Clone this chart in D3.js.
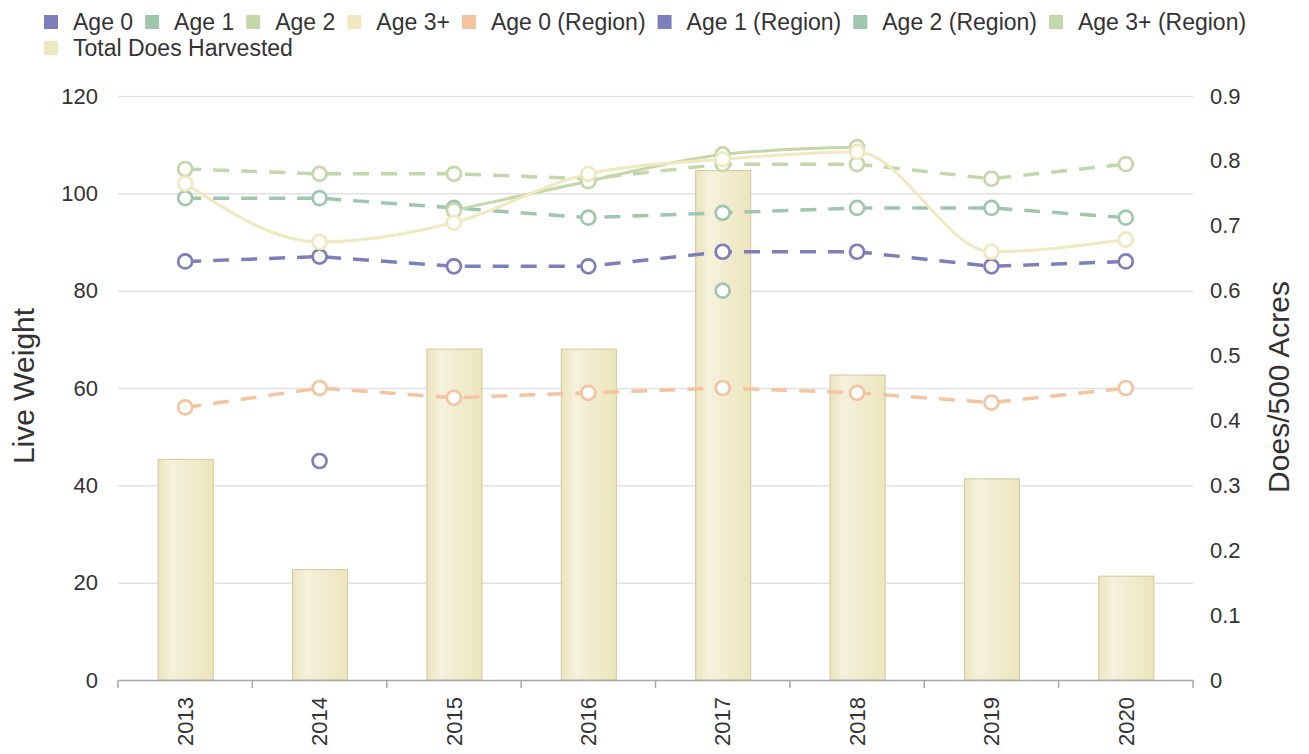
<!DOCTYPE html>
<html>
<head>
<meta charset="utf-8">
<script src="https://cdn.jsdelivr.net/npm/d3@7"></script>
<style>
  html, body { margin: 0; padding: 0; background: #fff; }
  svg { display: block; font-family: "Liberation Sans", Arial, sans-serif; }
</style>
</head>
<body>
<svg id="chart" width="1309" height="754"></svg>
<script>
// ---- data ----
const years = ["2013", "2014", "2015", "2016", "2017", "2018", "2019", "2020"];
const age0 = [null, 45, null, null, null, null, null, null];
const age1 = [null, null, null, null, 80, null, null, null];
const age2 = [null, null, 96.5, 102.5, 108, 109.5, null, null];
const age3 = [102, 90, 94, 104, 107, 108.5, 88, 90.5];
const age0Region = [56, 60, 58, 59, 60, 59, 57, 60];
const age1Region = [86, 87, 85, 85, 88, 88, 85, 86];
const age2Region = [99, 99, 97, 95, 96, 97, 97, 95];
const age3Region = [105, 104, 104, 103, 106, 106, 103, 106];
const totalDoes = [0.34, 0.17, 0.51, 0.51, 0.785, 0.47, 0.31, 0.16];
const leftTicks = [0, 20, 40, 60, 80, 100, 120];
const rightTicks = [0, 0.1, 0.2, 0.3, 0.4, 0.5, 0.6, 0.7, 0.8, 0.9];
const seriesNames = ["Age 0", "Age 1", "Age 2", "Age 3+", "Age 0 (Region)", "Age 1 (Region)", "Age 2 (Region)", "Age 3+ (Region)", "Total Does Harvested"];

// ---- styles ----
const C = { purple: "#7e7ebb", teal: "#9fc6af", lgreen: "#c4d7aa", yellow: "#efe9bf", orange: "#f4c3a0" };
const seriesColors = [C.purple, C.teal, C.lgreen, C.yellow, C.orange, C.purple, C.teal, C.lgreen, C.yellow];

const svg = d3.select("#chart");
const plotL = 118, plotR = 1193, plotT = 96, plotB = 680;

const x = d3.scaleBand().domain(years).range([plotL, plotR]).paddingInner(0).paddingOuter(0);
const yL = d3.scaleLinear().domain([0, 120]).range([plotB, plotT]);
const yR = d3.scaleLinear().domain([0, 0.9]).range([plotB, plotT]);
const cx = d => x(d) + x.bandwidth() / 2;

// defs gradient for bars
const defs = svg.append("defs");
const grad = defs.append("linearGradient").attr("id", "barGrad").attr("x1", "0%").attr("x2", "100%").attr("y1", "0%").attr("y2", "0%");
grad.append("stop").attr("offset", "0%").attr("stop-color", "#ece5bd");
grad.append("stop").attr("offset", "25%").attr("stop-color", "#f5f1dc");
grad.append("stop").attr("offset", "100%").attr("stop-color", "#ece5bc");

// gridlines (left axis)
svg.append("g").selectAll("line").data(leftTicks.filter(t => t > 0)).join("line")
  .attr("x1", plotL).attr("x2", plotR)
  .attr("y1", d => yL(d) + 0.5).attr("y2", d => yL(d) + 0.5)
  .attr("stroke", "#e2e2e2").attr("stroke-width", 1.5);

// left axis via d3
const leftAxis = d3.axisLeft(yL).tickValues(leftTicks).tickSize(0).tickPadding(20);
const gL = svg.append("g").attr("transform", `translate(${plotL},0)`).call(leftAxis);
gL.select(".domain").remove();
gL.selectAll("text").attr("font-size", 22).attr("fill", "#333").attr("font-family", "Liberation Sans, Arial, sans-serif");

// right axis
const rightAxis = d3.axisRight(yR).tickValues(rightTicks).tickSize(0).tickPadding(17).tickFormat(d => d === 0 ? "0" : d3.format(".1f")(d));
const gR = svg.append("g").attr("transform", `translate(${plotR},0)`).call(rightAxis);
gR.select(".domain").remove();
gR.selectAll("text").attr("font-size", 22).attr("fill", "#333").attr("font-family", "Liberation Sans, Arial, sans-serif");

// bars
const barW = x.bandwidth() * 0.41;
svg.append("g").selectAll("rect").data(years).join("rect")
  .attr("x", (d) => cx(d) - barW / 2 + 0.5)
  .attr("y", (d, i) => yR(totalDoes[i]))
  .attr("width", barW)
  .attr("height", (d, i) => plotB - yR(totalDoes[i]))
  .attr("fill", "url(#barGrad)")
  .attr("stroke", "#d0c8a0").attr("stroke-width", 1);

// bottom axis
const bottomAxis = d3.axisBottom(x).tickSize(0).tickPadding(0);
const gB = svg.append("g").attr("transform", `translate(0,${plotB})`).call(bottomAxis);
gB.select(".domain").attr("stroke", "#a8a8a8").attr("stroke-width", 1.5);
gB.selectAll(".tick text")
  .attr("font-size", 22).attr("fill", "#333").attr("font-family", "Liberation Sans, Arial, sans-serif")
  .attr("text-anchor", "end")
  .attr("transform", "translate(0,17) rotate(-90)")
  .attr("x", 0).attr("y", 0).attr("dy", "0.35em");
// boundary tick marks
const bounds = years.map(d => x(d)).concat([plotR]);
gB.append("g").selectAll("line").data(bounds).join("line")
  .attr("x1", d => d).attr("x2", d => d).attr("y1", 0).attr("y2", 8)
  .attr("stroke", "#a8a8a8").attr("stroke-width", 1.5);

// lines
const lineLinear = d3.line().defined(d => d.v != null).x(d => cx(d.year)).y(d => yL(d.v));
const lineSmooth = d3.line().defined(d => d.v != null).x(d => cx(d.year)).y(d => yL(d.v)).curve(d3.curveMonotoneX);
const toPts = arr => years.map((y, i) => ({ year: y, v: arr[i] }));

const lineSeries = [
  { data: age0Region, color: C.orange, dashed: true },
  { data: age1Region, color: C.purple, dashed: true },
  { data: age2Region, color: C.teal, dashed: true },
  { data: age3Region, color: C.lgreen, dashed: true },
  { data: age0, color: C.purple, dashed: false },
  { data: age1, color: C.teal, dashed: false },
  { data: age2, color: C.lgreen, dashed: false },
  { data: age3, color: C.yellow, dashed: false }
];

lineSeries.forEach(s => {
  const pts = toPts(s.data);
  const g = svg.append("g");
  g.append("path").datum(pts)
    .attr("d", s.dashed ? lineLinear : lineSmooth)
    .attr("fill", "none").attr("stroke", s.color)
    .attr("stroke-width", s.dashed ? 3.5 : 3)
    .attr("stroke-dasharray", s.dashed ? "16,12" : null);
  g.selectAll("circle").data(pts.filter(p => p.v != null)).join("circle")
    .attr("cx", p => cx(p.year)).attr("cy", p => yL(p.v))
    .attr("r", 7).attr("fill", "#fff").attr("stroke", s.color).attr("stroke-width", 2.7);
});

// axis titles
svg.append("text").attr("transform", "translate(34,386) rotate(-90)")
  .attr("text-anchor", "middle").attr("font-size", 30).attr("fill", "#333").text("Live Weight");
svg.append("text").attr("transform", "translate(1289,387) rotate(-90)")
  .attr("text-anchor", "middle").attr("font-size", 30).attr("fill", "#333").text("Does/500 Acres");

// legend
const leg = svg.append("g");
let lx = 44, ly = 22;
const maxX = 1290;
seriesNames.forEach((name, i) => {
  const item = leg.append("g");
  const t = item.append("text").attr("font-size", 23).attr("fill", "#333").attr("dy", "0.35em").text(name);
  const w = t.node().getComputedTextLength();
  if (lx + 29 + w > maxX) { lx = 44; ly += 26; }
  item.append("rect").attr("x", lx).attr("y", ly - 7).attr("width", 14).attr("height", 14).attr("fill", seriesColors[i]);
  t.attr("x", lx + 29).attr("y", ly);
  lx = lx + 29 + w + 12;
});
</script>
</body>
</html>
